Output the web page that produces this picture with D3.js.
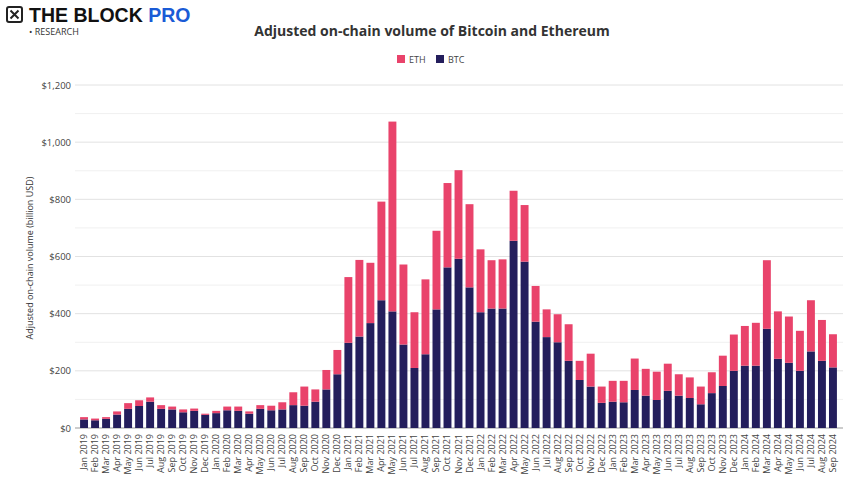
<!DOCTYPE html><html><head><meta charset="utf-8"><script src="https://cdn.jsdelivr.net/npm/d3@7"></script>
<style>body{margin:0;background:#fff;font-family:"Open Sans",Roboto,sans-serif}</style></head><body><svg id="c" width="865" height="493"></svg><script>
const months=["Jan","Feb","Mar","Apr","May","Jun","Jul","Aug","Sep","Oct","Nov","Dec"];
const categories=[];for(let y=2019;y<=2024;y++)for(let m=0;m<12;m++){if(y===2024&&m>8)break;categories.push(months[m]+" "+y);}
const btc=[30,27,32,47,67,77,92,67,65,55,60,46,52,62,60,50,67,62,65,80,78,92,135,188,298,320,367,447,408,292,210,258,415,562,592,492,405,418,418,655,582,372,318,300,235,168,145,88,92,90,133,113,98,130,113,105,83,122,147,200,218,218,347,242,228,200,268,235,212];
const total=[38,33,38,58,87,97,107,80,75,65,68,50,60,75,75,58,80,78,90,125,145,135,203,273,528,588,578,792,1072,572,405,520,690,857,902,783,625,587,590,830,780,497,415,398,363,235,260,145,165,165,243,207,197,225,188,177,145,195,253,327,357,368,587,408,390,340,447,378,328];
const eth=total.map((t,i)=>t-btc[i]);
const yTicks=[0,200,400,600,800,1000,1200];
const svg=d3.select("#c");
const x=d3.scaleBand().domain(categories).range([77,840]).padding(0.28);
const y=d3.scaleLinear().domain([0,1200]).range([428,85]);
const g=svg.append("g");
for(let t=100;t<1200;t+=200)g.append("line").attr("x1",75).attr("x2",843).attr("y1",y(t)).attr("y2",y(t)).attr("stroke","#f0f0f0");
yTicks.forEach(t=>{g.append("line").attr("x1",75).attr("x2",843).attr("y1",y(t)).attr("y2",y(t)).attr("stroke",t===0?"#999":"#e2e2e2").attr("stroke-width",1);
g.append("text").attr("x",71).attr("y",y(t)+3.5).attr("text-anchor","end").attr("font-size",9.5).attr("fill","#444").text("$"+d3.format(",")(t));});
const data=categories.map((c,i)=>({c,btc:btc[i],eth:eth[i]}));
g.selectAll(".b").data(data).join("rect").attr("x",d=>x(d.c)).attr("width",x.bandwidth()).attr("y",d=>y(d.btc)).attr("height",d=>y(0)-y(d.btc)).attr("fill","#241e5c");
g.selectAll(".e").data(data).join("rect").attr("x",d=>x(d.c)).attr("width",x.bandwidth()).attr("y",d=>y(d.btc+d.eth)).attr("height",d=>y(d.btc)-y(d.btc+d.eth)).attr("fill","#e9436b");
g.selectAll(".xl").data(categories).join("text").attr("transform",d=>`translate(${x(d)+x.bandwidth()/2+3},434) rotate(-90)`).attr("text-anchor","end").attr("font-size",9).attr("fill","#444").text(d=>d);
svg.append("text").attr("transform","translate(33,258) rotate(-90)").attr("text-anchor","middle").attr("font-size",9).attr("fill","#333").text("Adjusted on-chain volume (billion USD)");
svg.append("text").attr("x",432).attr("y",36).attr("text-anchor","middle").attr("font-size",14).attr("font-weight","bold").attr("fill","#333").text("Adjusted on-chain volume of Bitcoin and Ethereum");
[["ETH","#e9436b",397],["BTC","#241e5c",436]].forEach(([l,c,px])=>{svg.append("rect").attr("x",px).attr("y",55).attr("width",8).attr("height",8).attr("fill",c);svg.append("text").attr("x",px+12).attr("y",62.5).attr("font-size",9).attr("fill","#444").text(l);});
const lg=svg.append("g");
lg.append("rect").attr("x",7).attr("y",7).attr("width",15).attr("height",15).attr("rx",2).attr("fill","none").attr("stroke","#222").attr("stroke-width",2);
lg.append("path").attr("d","M10.5 10.5 L18.5 18.5 M18.5 10.5 L10.5 18.5").attr("stroke","#222").attr("stroke-width",2);
lg.append("text").attr("x",29).attr("y",22).attr("font-size",19.5).attr("font-weight","bold").attr("font-family","Liberation Sans,Arial").attr("fill","#111").text("THE BLOCK ").append("tspan").attr("fill","#1a5bd6").text("PRO");
lg.append("text").attr("x",29).attr("y",35).attr("font-size",9).attr("fill","#333").text("• RESEARCH");
</script></body></html>
